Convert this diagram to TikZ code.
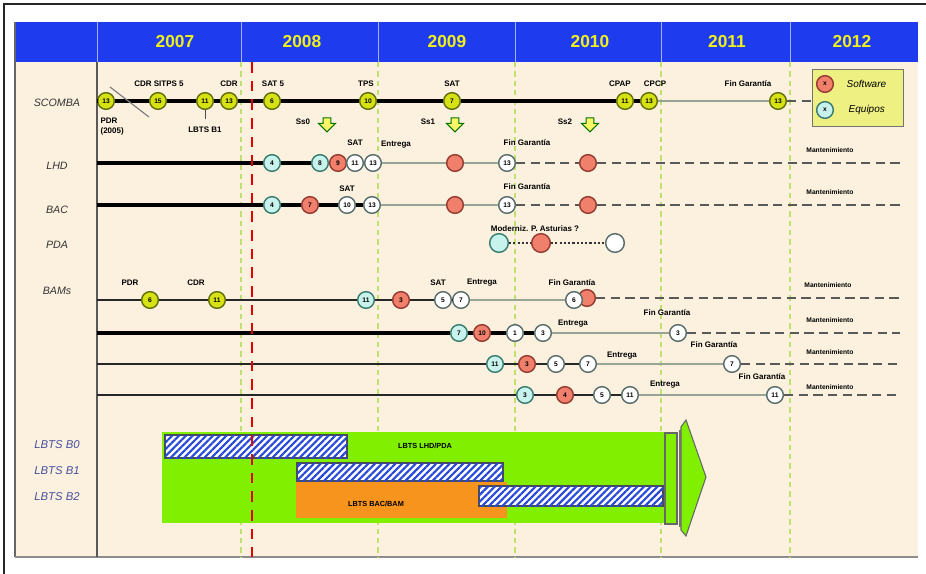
\documentclass[tikz,border=0pt]{standalone}
\usepackage{fontspec}
\setmainfont{Liberation Sans}
\usetikzlibrary{patterns.meta,shapes.arrows}

\definecolor{bg}{RGB}{251,241,222}
\definecolor{hdr}{RGB}{30,60,238}
\definecolor{yr}{RGB}{240,240,30}
\definecolor{yfill}{RGB}{214,226,20}
\definecolor{yedge}{RGB}{100,112,10}
\definecolor{cfill}{RGB}{200,242,236}
\definecolor{cedge}{RGB}{60,125,115}
\definecolor{rfill}{RGB}{240,128,108}
\definecolor{redge}{RGB}{150,60,50}
\definecolor{wedge}{RGB}{90,110,110}
\definecolor{grid}{RGB}{190,225,110}
\definecolor{lgreen}{RGB}{128,240,0}
\definecolor{lorange}{RGB}{247,148,30}
\definecolor{hatch}{RGB}{40,72,216}
\definecolor{lbts}{RGB}{70,80,160}
\definecolor{keyfill}{RGB}{238,240,130}
\definecolor{lgray}{RGB}{150,165,150}

\tikzset{
  ms/.style={circle, draw, line width=1.1pt, minimum size=12.5pt, inner sep=0pt,
    font=\fontsize{5}{5}\selectfont\bfseries},
  yel/.style={ms, fill=yfill, draw=yedge},
  cya/.style={ms, fill=cfill, draw=cedge},
  sw/.style={ms, fill=rfill, draw=redge},
  wht/.style={ms, fill=white, draw=wedge},
  lbl/.style={font=\fontsize{6}{7.5}\selectfont\bfseries, inner sep=1pt},
  mant/.style={font=\fontsize{5}{6}\selectfont\bfseries, inner sep=1pt},
  year/.style={font=\fontsize{13}{15}\selectfont\bfseries, text=yr},
  rowname/.style={font=\fontsize{8}{9}\selectfont\itshape, text=black!80},
  lbtsname/.style={font=\fontsize{8.5}{10}\selectfont\itshape, text=lbts},
  keytxt/.style={font=\fontsize{7.5}{9}\selectfont\itshape, anchor=west},
  heavy/.style={line width=2.3pt, black},
  medium/.style={line width=1.5pt, black!85},
  light/.style={line width=1.3pt, lgray},
  maint/.style={line width=1.3pt, black!65, dash pattern=on 7pt off 4pt},
  dotline/.style={line width=1.6pt, black!80, dash pattern=on 1.6pt off 1.6pt},
  hatchbox/.style={draw=black!70, line width=0.8pt, fill=white,
    postaction={pattern={Lines[angle=45,distance=3.6pt,line width=1.6pt]}, pattern color=hatch}},
  ssarrow/.style={single arrow, draw=green!45!black, fill=yellow!60, line width=0.7pt,
    minimum height=10.5pt, inner sep=2.5pt, single arrow head extend=3.5pt, rotate=-90},
}

\begin{document}
\begin{tikzpicture}[x=0.75pt, y=-0.75pt]
\useasboundingbox (0,0) rectangle (926,574);

% Frame and panel
\fill[white] (0,0) rectangle (926,574);
\draw[black!85, line width=1.2pt] (4,574) -- (4,4) -- (926,4);
\fill[bg] (15,22) rectangle (918,557);
\fill[hdr] (15,22) rectangle (918,62);
\draw[black!60, line width=1.2pt] (15,22) -- (15,557);
\draw[black!45, line width=2pt] (15,557) -- (918,557);

% Years
\foreach \x in {97,241,378,515,661,790}
  \draw[hdr!40!white, line width=0.5pt] (\x,22) -- (\x,62);
\foreach \x/\yr in {175/2007,302/2008,447/2009,590/2010,727/2011,852/2012}
  \node[year] (y\yr) at (\x,42) {\yr};

% Column lines
\draw[black!65, line width=1.2pt] (97,62) -- (97,557);
\foreach \x in {241,378,515,661,790}
  \draw[grid, line width=0.8pt, dash pattern=on 4pt off 3pt] (\x,62) -- (\x,557);

% Row names
\foreach \n/\y/\t in {sc/103/SCOMBA, lh/166/LHD, ba/210/BAC, pd/245/PDA, bm/291/BAMs}
  \node[rowname] (\n) at (57,\y) {\t};

% Key
\node[draw=black!55, fill=keyfill, line width=0.8pt, minimum width=68pt, minimum height=43pt] (key) at (858,98) {};
\node[sw] (k1) at (825,84) {x};
\node[keytxt] (k1t) at (842,84) {Software};
\node[cya] (k2) at (825,110) {x};
\node[keytxt] (k2t) at (844,110) {Equipos};

% SCOMBA
\coordinate (s0) at (97,101);
\foreach \n/\x/\t in {s1/106/13, s2/158/15, s3/205/11, s4/229/13, s5/272/6,
                      s6/368/10, s7/452/7, s8/625/11, s9/649/13, s10/778/13}
  \node[yel] (\n) at (\x,101) {\t};
\draw[heavy] (s0) -- (s1) -- (s2) -- (s3) -- (s4) -- (s5) -- (s6) -- (s7) -- (s8) -- (s9);
\draw[light] (s9) -- (s10);
\draw[maint] (s10) -- (s10 -| key.west);
\draw[gray, line width=0.9pt] (110,87) -- (149,117);
\node[lbl, align=left, anchor=north west, font=\fontsize{6}{7.5}\selectfont\bfseries] (s1b) at (99,116) {PDR\\(2005)};
\node[lbl] (s3b) at (205,130) {LBTS B1};
\draw[black!70, line width=0.6pt, shorten >=5pt] (s3) -- (s3b);
\foreach \n/\x/\t in {s2/159/CDR SITPS 5, s4/229/CDR, s5/273/SAT 5, s6/366/TPS,
                      s7/452/SAT, s8/620/CPAP, s9/655/CPCP, s10/748/Fin Garantía}
  \node[lbl] (\n t) at (\x,84) {\t};
\foreach \n/\x/\ax in {0/303/327, 1/428/455, 2/565/590} {
  \node[lbl] (ss\n) at (\x,122) {Ss\n};
  \node[ssarrow] (ss\n a) at (\ax,123) {};
}

% LHD
\coordinate (l0) at (97,163);
\coordinate (l9) at (900,163);
\foreach \n/\x/\s/\t in {l1/272/cya/4, l2/320/cya/8, l3/338/sw/9, l4/355/wht/11,
                         l5/373/wht/13, l6/455/sw/{}, l7/507/wht/13, l8/588/sw/{}}
  \node[\s] (\n) at (\x,163) {\t};
\draw[heavy] (l0) -- (l1) -- (l2);
\draw[light] (l5) -- (l6) -- (l7);
\draw[maint] (l7) -- (l8) -- (l9);
\node[lbl] (l4t) at (355,143) {SAT};
\node[lbl] (l5t) at (396,145) {Entrega};
\node[lbl] (l7t) at (527,143) {Fin Garantía};
\node[mant] (l9t) at (830,150) {Mantenimiento};

% BAC
\coordinate (b0) at (97,205);
\coordinate (b8) at (900,205);
\foreach \n/\x/\s/\t in {b1/272/cya/4, b2/310/sw/7, b3/347/wht/10, b4/372/wht/13,
                         b5/455/sw/{}, b6/507/wht/13, b7/588/sw/{}}
  \node[\s] (\n) at (\x,205) {\t};
\draw[heavy] (b0) -- (b1) -- (b2) -- (b3) -- (b4);
\draw[light] (b4) -- (b5) -- (b6);
\draw[maint] (b6) -- (b7) -- (b8);
\node[lbl] (b3t) at (347,189) {SAT};
\node[lbl] (b6t) at (527,187) {Fin Garantía};
\node[mant] (b8t) at (830,192) {Mantenimiento};

% PDA
\foreach \n/\x/\s in {p1/499/cya, p2/541/sw, p3/615/wht}
  \node[\s, minimum size=14pt] (\n) at (\x,243) {};
\draw[dotline] (p1) -- (p2) -- (p3);
\node[lbl] (p2t) at (535,229) {Moderniz. P. Asturias ?};

% BAMs
\coordinate (m0) at (97,300);
\coordinate (m9) at (900,298);
\foreach \n/\x/\s/\t in {m1/150/yel/6, m2/217/yel/11, m3/366/cya/11, m4/401/sw/3,
                         m5/443/wht/5, m6/461/wht/7}
  \node[\s] (\n) at (\x,300) {\t};
\node[sw] (m7) at (587,298) {};
\node[wht] (m8) at (574,300) {6};
\draw[medium] (m0) -- (m1) -- (m2) -- (m3) -- (m4) -- (m5) -- (m6);
\draw[light] (m6) -- (m8);
\draw[maint] (m7) -- (m9);
\foreach \n/\x/\t in {m1/130/PDR, m2/196/CDR, m5/438/SAT, m6/482/Entrega, m8/572/Fin Garantía}
  \node[lbl] (\n t) at (\x,283) {\t};
\node[mant] (m9t) at (828,285) {Mantenimiento};

\coordinate (n0) at (97,333);
\coordinate (n6) at (900,333);
\foreach \n/\x/\s/\t in {n1/459/cya/7, n2/482/sw/10, n3/515/wht/1, n4/543/wht/3, n5/678/wht/3}
  \node[\s] (\n) at (\x,333) {\t};
\draw[heavy] (n0) -- (n1) -- (n2) -- (n3) -- (n4);
\draw[light] (n4) -- (n5);
\draw[maint] (n5) -- (n6);
\node[lbl] (n4t) at (573,324) {Entrega};
\node[lbl] (n5t) at (667,313) {Fin Garantía};
\node[mant] (n6t) at (830,320) {Mantenimiento};

\coordinate (q0) at (97,364);
\coordinate (q6) at (900,364);
\foreach \n/\x/\s/\t in {q1/495/cya/11, q2/527/sw/3, q3/556/wht/5, q4/588/wht/7, q5/732/wht/7}
  \node[\s] (\n) at (\x,364) {\t};
\draw[medium] (q0) -- (q1) -- (q2) -- (q3) -- (q4);
\draw[light] (q4) -- (q5);
\draw[maint] (q5) -- (q6);
\node[lbl] (q4t) at (622,356) {Entrega};
\node[lbl] (q5t) at (714,345) {Fin Garantía};
\node[mant] (q6t) at (830,352) {Mantenimiento};

\coordinate (r0) at (97,395);
\coordinate (r6) at (900,395);
\foreach \n/\x/\s/\t in {r1/525/cya/3, r2/565/sw/4, r3/602/wht/5, r4/630/wht/11, r5/775/wht/11}
  \node[\s] (\n) at (\x,395) {\t};
\draw[medium] (r0) -- (r1) -- (r2) -- (r3) -- (r4);
\draw[light] (r4) -- (r5);
\draw[maint] (r5) -- (r6);
\node[lbl] (r4t) at (665,385) {Entrega};
\node[lbl] (r5t) at (762,377) {Fin Garantía};
\node[mant] (r6t) at (830,387) {Mantenimiento};

% LBTS
\foreach \n/\y/\t in {lb0/445/LBTS B0, lb1/471/LBTS B1, lb2/497/LBTS B2}
  \node[lbtsname] (\n) at (57,\y) {\t};
\fill[lgreen] (162,432) rectangle (664,523);
\fill[lorange] (296,482) rectangle (507,518);
\draw[hatchbox] (165,435) rectangle (347,458);
\draw[hatchbox] (297,463) rectangle (503,481);
\draw[hatchbox] (479,486) rectangle (663,506);
\node[lbl, font=\fontsize{5.5}{6}\selectfont\bfseries] (lhdpda) at (425,446) {LBTS LHD/PDA};
\node[lbl, font=\fontsize{5.5}{6}\selectfont\bfseries] (bacbam) at (376,504) {LBTS BAC/BAM};
\draw[fill=lgreen, draw=black!60, line width=0.8pt] (665,433) rectangle (677,524);
\draw[fill=lgreen, draw=black!60, line width=0.8pt]
  (681,427) -- (686,420) -- (706,477) -- (686,536) -- (681,530) -- cycle;
\draw[black!55, line width=2pt] (680,430) -- (680,527);

% Today
\draw[red!90!black, line width=2.2pt, dash pattern=on 8pt off 6pt] (252,62) -- (252,557);

\end{tikzpicture}
\end{document}
